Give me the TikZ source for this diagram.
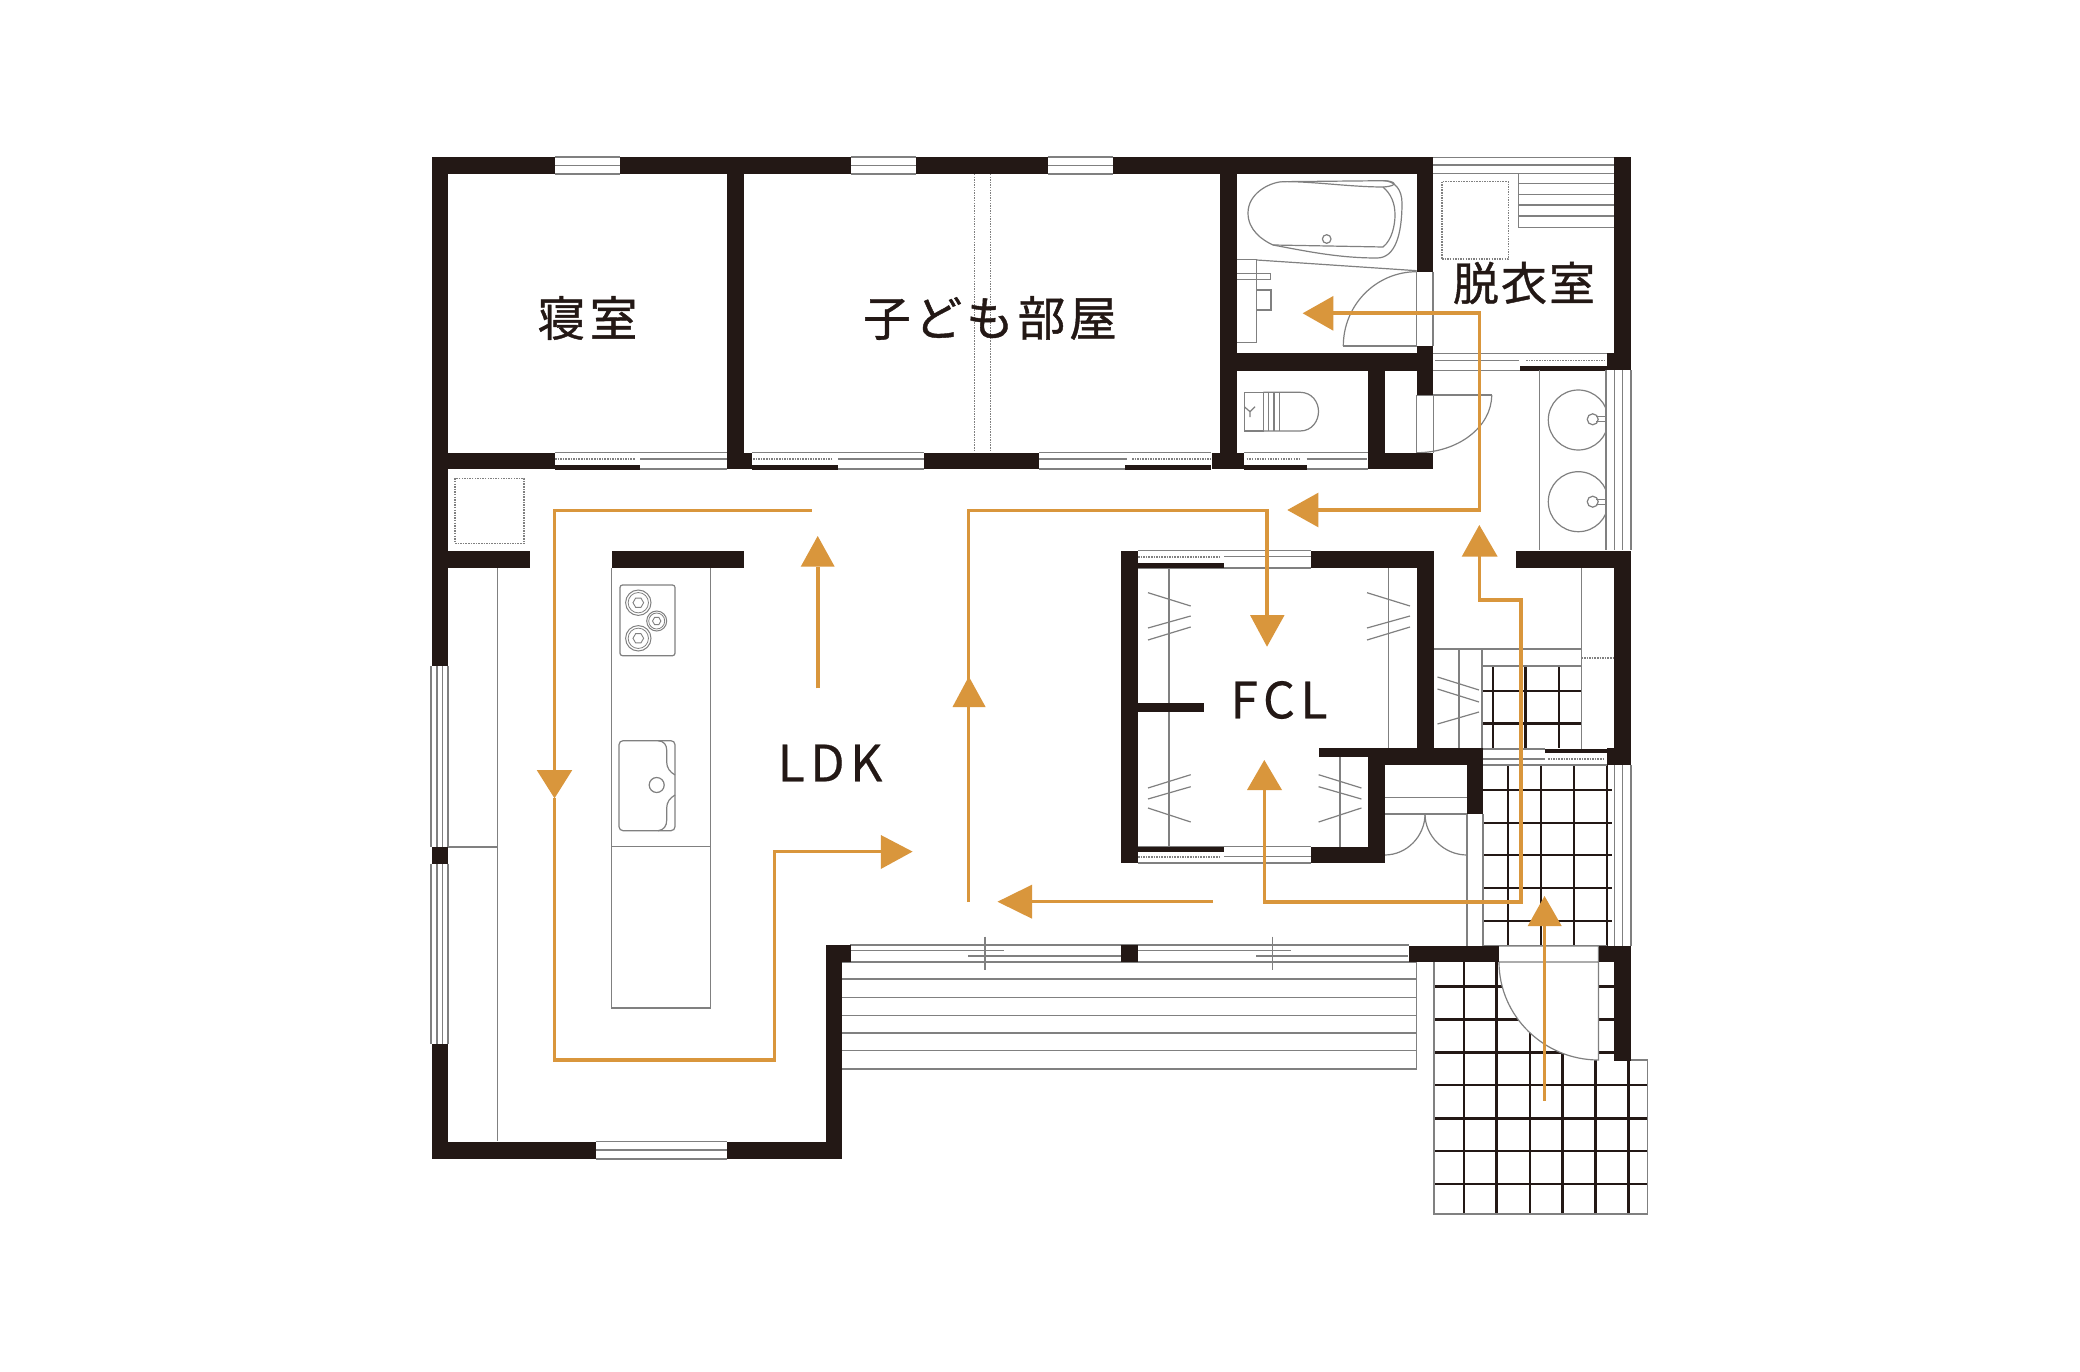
\documentclass[tikz,border=0pt]{standalone}
\usepackage{fontspec}
\newfontfamily\cjkf[FakeBold=0.9]{Noto Sans CJK JP}
\newfontfamily\latf[LetterSpace=11,FakeBold=0.4]{Noto Sans CJK JP}
\definecolor{wallc}{HTML}{231815}
\definecolor{routec}{HTML}{D9963C}
\definecolor{linec}{HTML}{808080}
\tikzset{
  wall/.style={fill=wallc},
  fine/.style={draw=linec,line width=1.2pt},
  dots/.style={draw=linec,line width=1.6pt,dash pattern=on 1.5pt off 1.1pt},
  tile/.style={draw=wallc,line width=2.9pt},
  route/.style={draw=routec,line width=3.6pt,line join=miter},
  routethin/.style={draw=routec,line width=3.1pt,line join=miter},
  head/.style={fill=routec},
  roomtext/.style={inner sep=0pt,text=wallc,anchor=center}
}
\newcommand{\burner}[3]{%
  \draw[fine,line width=1pt] (#1,#2) circle[radius=#3];
  \draw[fine,line width=.8pt] (#1,#2) circle[radius=#3*.8];
  \draw[fine,line width=.9pt] (#1,#2) ++(0:#3*.42) -- ++(120:#3*.42) -- ++(180:#3*.42) -- ++(240:#3*.42) -- ++(300:#3*.42) -- ++(0:#3*.42) -- cycle;
}
\begin{document}
\begin{tikzpicture}[x=1pt,y=-1pt]
\useasboundingbox (0,0) rectangle (2080,1372);
\fill[white] (0,0) rectangle (2080,1372);

% ---- entrance porch tiles
\foreach \xx in {1464,1496.7,1530,1562.3,1595.3,1628.3} \draw[tile] (\xx,962) -- (\xx,1214);
\foreach \yy in {986.7,1019.3,1052.3} \draw[tile] (1434,\yy) -- (1614,\yy);
\foreach \yy in {1085,1118.3,1151,1184} \draw[tile] (1434,\yy) -- (1647.3,\yy);
\draw[fine] (1434,962) -- (1434,1214) -- (1647.3,1214) -- (1647.3,1060) -- (1630,1060);

% ---- hall tiles
\foreach \xx in {1508,1541,1574,1607} \draw[tile] (\xx,765) -- (\xx,946);
\foreach \yy in {790,823,855,888,921} \draw[tile] (1483,\yy) -- (1612,\yy);
\foreach \xx in {1493,1525.7,1559} \draw[tile] (\xx,666) -- (\xx,748);
\foreach \yy in {691,723.7} \draw[tile] (1482,\yy) -- (1581,\yy);
\draw[fine] (1482,666) -- (1581,666);
\draw[fine] (1434,649) -- (1581,649);
\draw[fine] (1459,649) -- (1459,748);
\draw[fine] (1482,649) -- (1482,748);
\draw[fine] (1581.4,568) -- (1581.4,749);
\draw[dots] (1581.4,657.7) -- (1614,657.7);
\draw[fine] (1437.5,677) -- (1479,690) (1437.5,689) -- (1479,702) (1437.5,724) -- (1479,712);
\foreach \xx in {1467,1483} \draw[fine] (\xx,814) -- (\xx,946);
\foreach \xx in {1614.3,1622.7,1631} \draw[fine] (\xx,765) -- (\xx,946);
\draw[fine] (1483,946) -- (1607,946);
\draw[fine] (1483,765) -- (1607,765) (1483,749) -- (1545,749);
\draw[fine] (1483,759) -- (1544.6,759);
\draw[dots] (1548,759) -- (1605,759);

% ---- entrance door
\fill[white] (1499,946) -- (1598,946) -- (1598,1060) .. controls (1544,1060) and (1499,1016) .. (1499,962) -- cycle;
\draw[fine] (1499,946) -- (1598.5,946) -- (1598.5,1060) .. controls (1544,1060) and (1499,1016) .. (1499,962) -- (1598.5,962);

% ---- deck
\foreach \yy in {962,979,997.7,1015.7,1033,1050.7,1069} \draw[fine] (842,\yy) -- (1416.6,\yy);
\draw[fine] (1416.6,962) -- (1416.6,1069);
\draw[fine] (850,945) -- (1409,945);
\draw[fine] (850,950.7) -- (1003.6,950.7) (968,956) -- (1121,956);
\draw[fine] (1138,950.7) -- (1291,950.7) (1256,956) -- (1408,956);
\draw[fine] (985,936.7) -- (985,970) (1272.7,936.7) -- (1272.7,970);

% ---- windows, top wall
\foreach \a/\b in {555/620,851/916,1047.5/1113} {
  \draw[fine] (\a,157) -- (\b,157) (\a,165.5) -- (\b,165.5) (\a,174) -- (\b,174);
}
% ---- sliding windows below the rooms
\foreach \a/\b in {555/727,752/924,1039/1211} \draw[fine] (\a,452.7) -- (\b,452.7) (\a,469) -- (\b,469);
\draw[dots] (555,459) -- (635,459); \draw[fine] (640,459) -- (727,459);
\draw[dots] (753,459) -- (832,459); \draw[fine] (838,459) -- (924,459);
\draw[fine] (1039,459) -- (1126.6,459); \draw[dots] (1132,459) -- (1211,459);
\fill[wall] (555,465) rectangle (640,469.5);
\fill[wall] (752,465) rectangle (838,469.5);
\fill[wall] (1125,465) rectangle (1211,469.5);
\draw[fine] (1244,452.7) -- (1368,452.7) (1244,469) -- (1368,469);
\draw[dots] (1246.7,459) -- (1300,459); \draw[fine] (1306.7,459) -- (1367,459);
\fill[wall] (1244,465) rectangle (1306.7,469.5);
% partition dashes in children's room
\draw[dots,line width=1pt] (974,174) -- (974,452) (990,174) -- (990,452);

% ---- washroom
\draw[fine] (1433,157.3) -- (1614,157.3) (1433,165) -- (1614,165) (1433,173.3) -- (1614,173.3);
\foreach \yy in {183.3,194.3,205,216,227.3} \draw[fine] (1518.3,\yy) -- (1614,\yy);
\draw[fine] (1518.3,173.3) -- (1518.3,227.3);
\draw[dots] (1441.7,181.7) rectangle (1508.3,259.3);
\draw[fine] (1433,353.3) -- (1607,353.3) (1433,370.7) -- (1607,370.7);
\draw[fine] (1435,360.3) -- (1519,360.3); \draw[dots] (1526,360.3) -- (1605,360.3);
\fill[wall] (1520,366) rectangle (1607.3,370.7);

% ---- bath
\draw[fine] (1281.7,181.7) .. controls (1310,181) and (1350,187) .. (1383,187) .. controls (1400,186) and (1395,180.7) .. (1383.3,180.7) -- (1281.7,181.7);
\draw[fine] (1281.7,181.7) .. controls (1268,183) and (1248,194) .. (1248,213) .. controls (1248,230) and (1262,240) .. (1273,245) .. controls (1310,252) and (1340,258) .. (1377,258) .. controls (1395,258) and (1402,235) .. (1402,203) .. controls (1402,190) and (1395,180.7) .. (1383.3,180.7);
\draw[fine] (1273,245) -- (1383,247) .. controls (1392,240) and (1395,225) .. (1395,215) .. controls (1395,203) and (1391,194) .. (1383,187);
\draw[fine] (1326.7,239) circle[radius=4.3];
\draw[fine] (1236.7,259.3) -- (1256.7,259.3) -- (1256.7,342.3) -- (1236.7,342.3);
\draw[fine] (1256.7,260) -- (1416.7,270.7);
\draw[fine] (1236.7,273.3) rectangle (1270.7,279.3);
\draw[fine] (1256.7,290) rectangle (1271,310);
\draw[fine] (1416.7,271.7) -- (1433,271.7) (1416.7,271.7) -- (1416.7,346) -- (1343.3,346);
\draw[fine] (1433,271.7) -- (1433,346);
\draw[fine] (1343.3,346) .. controls (1343.3,305) and (1376,271.7) .. (1416.7,271.7);

% ---- toilet
\draw[fine] (1244.3,392.3) -- (1263.3,392.3) -- (1263.3,431) -- (1244.3,431) -- cycle;
\draw[fine] (1263.3,392.3) -- (1300,392.3) .. controls (1312,392.3) and (1318.5,402) .. (1318.5,411.5) .. controls (1318.5,421) and (1312,431) .. (1300,431) -- (1263.3,431);
\draw[fine] (1268.3,392.3) -- (1268.3,431) (1274,392.3) -- (1274,431) (1279.3,392.3) -- (1279.3,431);
\draw[fine] (1244.3,406.7) -- (1250,411.7) -- (1255,406.7) (1250,411.7) -- (1250,417);
\draw[fine] (1416.7,395) -- (1491.7,395) (1416.7,395) -- (1416.7,452.7) (1433.3,395) -- (1433.3,452.7);
\draw[fine] (1491.7,395) .. controls (1491.7,427) and (1458,452.7) .. (1416.7,452.7);

% ---- basins
\draw[fine] (1539.3,370) -- (1539.3,550);
\foreach \xx in {1606,1614.3,1622.7,1631} \draw[fine] (\xx,370) -- (\xx,550);
\begin{scope}
\clip (1500,370) rectangle (1606,550);
\draw[fine] (1578.3,420) circle[radius=30];
\draw[fine] (1578.3,501.7) circle[radius=30];
\end{scope}
\foreach \yy in {419.3,501.7} {
  \draw[fine] (1592.7,\yy) circle[radius=5.5];
  \draw[fine] (1596,\yy-2.5) -- (1606,\yy-2.5) (1596,\yy+2.5) -- (1606,\yy+2.5);
}

% ---- LDK fittings
\draw[dots] (455,478.3) rectangle (524,543.3);
\draw[fine] (497.3,568) -- (497.3,1141) (448,847) -- (497.3,847);
\foreach \xx in {431,437,442.5,448} \draw[fine] (\xx,666) -- (\xx,846.7) (\xx,863.6) -- (\xx,1044);
\draw[fine] (611.7,568) -- (611.7,1008) -- (710.7,1008) -- (710.7,568) (611.7,846.7) -- (710.7,846.7);
\draw[fine,rounded corners=2.5pt] (620,585) rectangle (675,655.7);
\burner{638.3}{602.7}{12.7}
\burner{656.7}{621}{10}
\burner{638.3}{638.3}{12.7}
\draw[fine,rounded corners=4pt] (619,740.7) rectangle (675,830.7);
\draw[fine] (658,740.7) .. controls (664,741) and (666.7,745) .. (666.7,750) -- (666.7,762) .. controls (666.7,768) and (670,772) .. (675,775);
\draw[fine] (675,795) .. controls (670,798) and (666.7,802) .. (666.7,808) -- (666.7,820) .. controls (666.7,826) and (664,830) .. (658,830.7);
\draw[fine] (656.7,785) circle[radius=7.5];

% ---- FCL fittings
\draw[fine] (1138,550.7) -- (1310.7,550.7) (1138,568) -- (1310.7,568);
\draw[dots] (1138,556.7) -- (1219.6,556.7); \draw[fine] (1224,556.7) -- (1310.7,556.7);
\fill[wall] (1138,562.7) rectangle (1224,568);
\draw[fine] (1138,846.7) -- (1310.7,846.7) (1138,863) -- (1310.7,863);
\draw[dots] (1138,856.7) -- (1219.6,856.7); \draw[fine] (1224,856.7) -- (1310.7,856.7);
\fill[wall] (1138,846.7) rectangle (1224,851.7);
\draw[fine] (1169,568) -- (1169,847) (1388.6,568) -- (1388.6,748) (1340,756) -- (1340,847);
\draw[fine] (1148,592.7) -- (1190.7,606) (1148,628) -- (1190.7,616) (1148,640) -- (1190.7,627);
\draw[fine] (1367,592.7) -- (1410,606) (1367,628) -- (1410,616) (1367,640) -- (1410,627);
\draw[fine] (1148,788) -- (1190.7,774.7) (1148,799) -- (1190.7,786.7) (1148,808) -- (1190.7,822);
\draw[fine] (1318.6,774.7) -- (1361.4,788) (1318.6,786.7) -- (1361.4,799) (1318.6,822) -- (1361.4,808);
\draw[fine] (1384.6,797.3) -- (1467,797.3) (1384.6,814) -- (1467,814);
\draw[fine] (1425,814) .. controls (1425,836) and (1407,855) .. (1384.6,855);
\draw[fine] (1425,814) .. controls (1425,836) and (1444,855) .. (1467,855);

% ---- walls
\fill[wall] (431.7,157) rectangle (555,174);
\fill[wall] (620,157) rectangle (851,174);
\fill[wall] (916,157) rectangle (1047.5,174);
\fill[wall] (1113,157) rectangle (1433.3,174);
\fill[wall] (431.7,157) rectangle (448.3,666);
\fill[wall] (431.7,846.7) rectangle (448.3,863.6);
\fill[wall] (431.7,1044) rectangle (448.3,1159);
\fill[wall] (431.7,1141.7) rectangle (595.6,1159);
\fill[wall] (727,1141.7) rectangle (842.3,1159);
\fill[wall] (825.7,945) rectangle (842.3,1159);
\fill[wall] (825.7,945) rectangle (850.6,962);
\fill[wall] (1121,945) rectangle (1138,962);
\fill[wall] (1409,946) rectangle (1499.3,962);
\fill[wall] (1598.7,946) rectangle (1630.7,962);
\fill[wall] (1614,946) rectangle (1630.7,1060.7);
\fill[wall] (448,452.7) rectangle (555,469);
\fill[wall] (727,157) rectangle (744,469);
\fill[wall] (727,452.7) rectangle (752,469);
\fill[wall] (924,452.7) rectangle (1039,469);
\fill[wall] (1220,157) rectangle (1236.7,469);
\fill[wall] (1211.7,452.7) rectangle (1244,469);
\fill[wall] (1416.7,157) rectangle (1433.3,271.7);
\fill[wall] (1416.7,346) rectangle (1433.3,395);
\fill[wall] (1236.7,353.3) rectangle (1433.3,370.7);
\fill[wall] (1368,370) rectangle (1385,469);
\fill[wall] (1368,452.7) rectangle (1433.3,469);
\fill[wall] (1614,157) rectangle (1631,370);
\fill[wall] (1607.3,353) rectangle (1631,370);
\fill[wall] (448,551) rectangle (530,568.3);
\fill[wall] (611.7,551) rectangle (744,568.3);
\fill[wall] (1120.7,550.7) rectangle (1137.9,863);
\fill[wall] (1138,703) rectangle (1204,712);
\fill[wall] (1310.7,550.7) rectangle (1434.3,568);
\fill[wall] (1417,550.7) rectangle (1434.3,765);
\fill[wall] (1318.6,748.3) rectangle (1368,756.7);
\fill[wall] (1368,748.3) rectangle (1483,765);
\fill[wall] (1368,748.3) rectangle (1384.6,863);
\fill[wall] (1310.7,846.7) rectangle (1384.6,863);
\fill[wall] (1467,748.3) rectangle (1483,814);
\fill[wall] (1516,550.7) rectangle (1631,568);
\fill[wall] (1614,550.7) rectangle (1631,765);
\fill[wall] (1607,748.3) rectangle (1631,765);
\fill[wall] (1544.6,749) rectangle (1614,753);
% south window of the living room
\draw[fine] (595.6,1141.7) -- (727,1141.7) (595.6,1150) -- (727,1150) (595.6,1159) -- (727,1159);

% ---- circulation routes
\draw[route] (1310,313.3) -- (1479.3,313.3) -- (1479.3,510) -- (1318,510);
\fill[head] (1302.7,313.3) -- (1333.3,296) -- (1333.3,330.7) -- cycle;
\fill[head] (1287.3,510) -- (1318.3,492.7) -- (1318.3,527.3) -- cycle;
\draw[route] (1479.3,556) -- (1479.3,600) -- (1520.7,600) -- (1520.7,901.7) -- (1264.3,901.7) -- (1264.3,790);
\fill[head] (1479.3,525) -- (1461.7,556.7) -- (1497.7,556.7) -- cycle;
\fill[head] (1264.3,760) -- (1247,790) -- (1282,790) -- cycle;
\draw[route] (1544.3,1100.7) -- (1544.3,926);
\fill[head] (1544.5,896) -- (1527.7,926) -- (1561.7,926) -- cycle;
\draw[routethin] (1213,901.7) -- (1032,901.7);
\fill[head] (997.5,901.7) -- (1032,884.7) -- (1032,918.7) -- cycle;
\draw[route] (968.4,902) -- (968.4,707);
\fill[head] (968.8,676.5) -- (952.5,707) -- (985.6,707) -- cycle;
\draw[routethin] (968.4,707) -- (968.4,510.3) -- (1267,510.3) -- (1267,615);
\fill[head] (1267,646.7) -- (1250,615) -- (1284.6,615) -- cycle;
\draw[routethin] (811.7,510.3) -- (554.3,510.3) -- (554.3,770);
\fill[head] (554.5,798.3) -- (536.7,770) -- (572.3,770) -- cycle;
\draw[routethin] (554.3,798) -- (554.3,1060) -- (774.7,1060) -- (774.7,851.6) -- (881,851.6);
\fill[head] (912.6,851.6) -- (880.8,835) -- (880.8,869) -- cycle;
\draw[route] (817.7,688.3) -- (817.7,566.7);
\fill[head] (817.7,536) -- (800.7,566.7) -- (834.7,566.7) -- cycle;

% ---- labels
\node[roomtext] (bedroom) at (587.5,318) {\fontsize{47.5}{47.5}\selectfont\cjkf\addfontfeature{LetterSpace=10}寝室};
\node[roomtext] (kids) at (990,318) {\fontsize{47.5}{47.5}\selectfont\cjkf\addfontfeature{LetterSpace=8.5}子ども部屋};
\node[roomtext] (wash) at (1524,283) {\fontsize{46}{46}\selectfont\cjkf\addfontfeature{LetterSpace=4.5}脱衣室};
\node[roomtext] (ldk) at (830,763) {\fontsize{50}{50}\selectfont\latf LDK};
\node[roomtext] (fcl) at (1279,700) {\fontsize{50}{50}\selectfont\latf FCL};
\end{tikzpicture}
\end{document}
